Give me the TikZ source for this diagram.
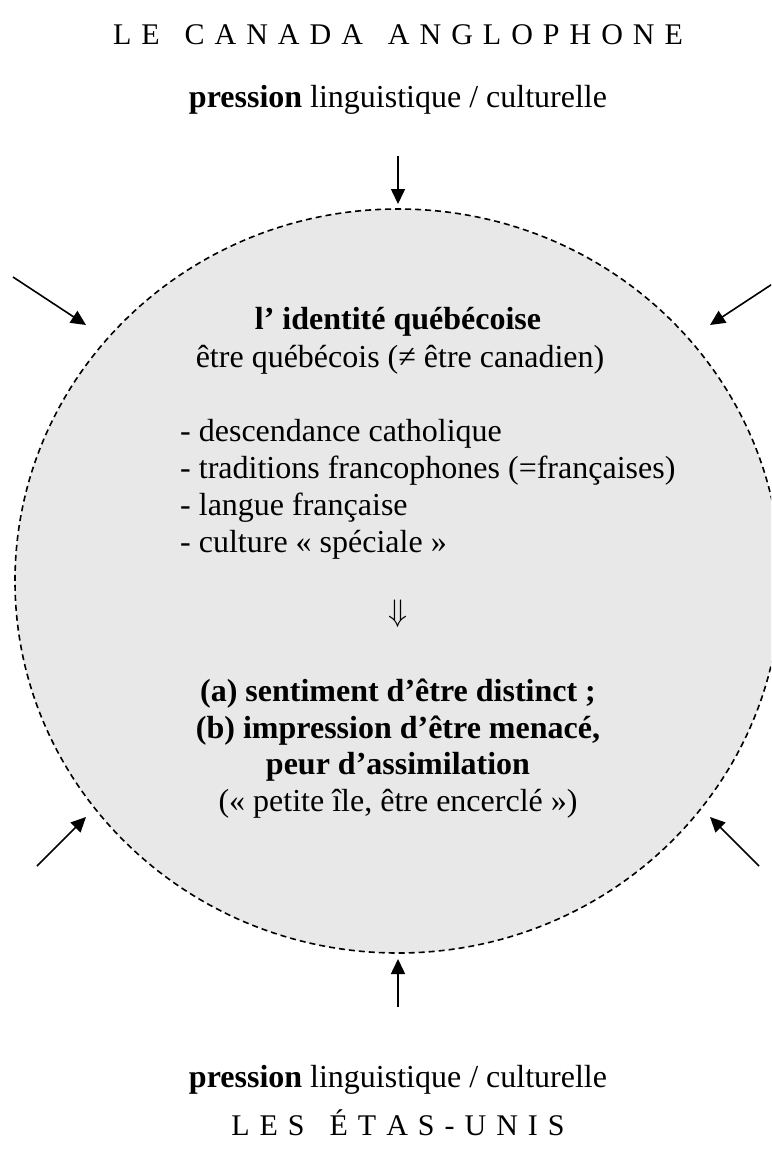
\documentclass[tikz,border=0pt]{standalone}
\usepackage{fontspec}
\usetikzlibrary{shapes.geometric,arrows.meta}
\setmainfont{Liberation Serif}
\definecolor{discfill}{HTML}{E8E8E8}
\newcommand\ltrsp{\hspace{10pt}}
\newcommand\wrdsp{\hspace{25pt}}
\begin{document}
\begin{tikzpicture}[x=1pt,y=-1pt,
  txt/.style={inner sep=0pt,anchor=base,font=\fontsize{32}{38}\selectfont},
  lst/.style={inner sep=0pt,anchor=base west,font=\fontsize{32}{38}\selectfont},
  ttl/.style={inner sep=0pt,anchor=base,font=\fontsize{30}{36}\selectfont},
  push/.style={line width=1.6pt,-{Triangle[length=15pt,width=14pt]}}]
\useasboundingbox (0,0) rectangle (771,1153);
\begin{scope}
\clip (0,0) rectangle (771,1153);
\node[ellipse,draw,dash pattern=on 6pt off 4pt,line width=1.6pt,fill=discfill,
      minimum width=766pt,minimum height=744pt,inner sep=0pt] (disc) at (398,581) {};
\end{scope}
% titles
\node[ttl] (canada) at (398,45) {L\ltrsp E\wrdsp C\ltrsp A\ltrsp N\ltrsp A\ltrsp D\ltrsp A\wrdsp A\ltrsp N\ltrsp G\ltrsp L\ltrsp O\ltrsp P\ltrsp H\ltrsp O\ltrsp N\ltrsp E};
\node[txt] (ptop) at (398,108) {\textbf{pression} linguistique / culturelle};
\node[txt] (pbot) at (398,1087) {\textbf{pression} linguistique / culturelle};
\node[ttl] (usa) at (398,1135) {L\ltrsp E\ltrsp S\wrdsp É\ltrsp T\ltrsp A\ltrsp S\ltrsp -\ltrsp U\ltrsp N\ltrsp I\ltrsp S};
% interior
\node[txt] (idq) at (398,329) {\textbf{l’ identité québécoise}};
\node[txt] (etre) at (400,367) {être québécois (≠ être canadien)};
\node[lst] (l1) at (180,441) {- descendance catholique};
\node[lst] (l2) at (180,478) {- traditions francophones (=françaises)};
\node[lst] (l3) at (180,515) {- langue française};
\node[lst] (l4) at (180,552) {- culture « spéciale »};
\node[inner sep=0pt,font=\fontsize{24.88}{30}\selectfont] (imp) at (398,614) {\scalebox{1.25}{$\Downarrow$}};
\node[txt] (ra) at (398,701) {\textbf{(a) sentiment d’être distinct ;}};
\node[txt] (rb) at (398,738) {\textbf{(b) impression d’être menacé,}};
\node[txt] (rc) at (398,774) {\textbf{peur d’assimilation}};
\node[txt] (rd) at (398,811) {(« petite île, être encerclé »)};
% arrows
\coordinate (tS) at (398,156);  \coordinate (tE) at (398,204);
\coordinate (bS) at (398,1007); \coordinate (bE) at (398,959);
\coordinate (tlS) at (13,277);  \coordinate (tlE) at (86,325);
\coordinate (trS) at (783,277); \coordinate (trE) at (710,325);
\coordinate (blS) at (37,866);  \coordinate (blE) at (86,817);
\coordinate (brS) at (759,866); \coordinate (brE) at (710,817);
\begin{scope}
\clip (0,0) rectangle (771,1153);
\draw[push] (tS) -- (tE);
\draw[push] (bS) -- (bE);
\draw[push] (tlS) -- (tlE);
\draw[push] (trS) -- (trE);
\draw[push] (blS) -- (blE);
\draw[push] (brS) -- (brE);
\end{scope}
\end{tikzpicture}
\end{document}
